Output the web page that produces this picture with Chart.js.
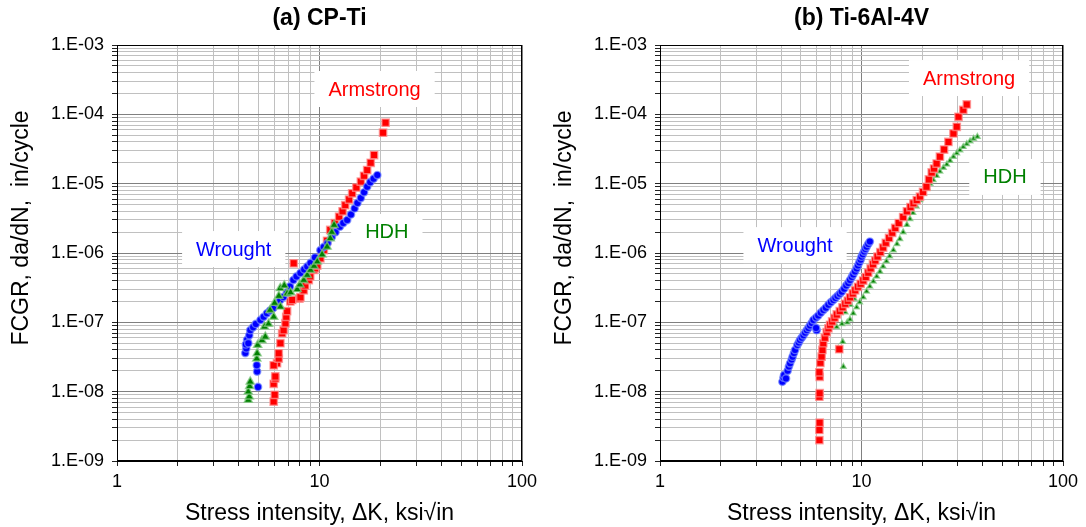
<!DOCTYPE html>
<html>
<head>
<meta charset="utf-8">
<script src="https://cdn.jsdelivr.net/npm/chart.js@4.4.1/dist/chart.umd.min.js"></script>
<style>
  html, body { margin: 0; padding: 0; background: #fff; }
  #wrap { position: relative; width: 1086px; height: 527px; overflow: hidden; }
  .panel { position: absolute; top: 0; width: 543px; height: 527px; }
</style>
</head>
<body>
<div id="wrap">
  <div class="panel" style="left:0"><canvas id="cpti"></canvas></div>
  <div class="panel" style="left:543px"><canvas id="ti64"></canvas></div>
</div>
<script>
// ---- axis decades and their labels ----
const xDecades = [1, 10, 100];
const xTickLabels = ['1', '10', '100'];
const yDecades = [1e-9, 1e-8, 1e-7, 1e-6, 1e-5, 1e-4, 1e-3];
const yTickLabels = ['1.E-09', '1.E-08', '1.E-07', '1.E-06', '1.E-05', '1.E-04', '1.E-03'];

// ---- (a) CP-Ti : stress intensity range (ksi·√in) and crack growth rate (in/cycle) ----
const cpWroughtK = [4.97, 4.92, 4.90, 4.30, 4.35, 4.39, 4.33, 4.45, 4.50, 4.55, 4.70, 4.85, 5.11, 5.30, 5.50, 5.70, 5.92, 6.20, 6.40, 6.63, 6.90, 7.15, 7.43, 7.70, 8.05, 8.40, 8.70, 9.03, 9.50, 10.1, 10.5, 10.96, 11.5, 12.0, 12.6, 13.1, 13.7, 14.3, 14.9, 15.4, 16.0, 16.6, 17.2, 17.8, 18.5, 19.3];
const cpWroughtRate = [1.17e-8, 1.95e-8, 2.4e-8, 3.6e-8, 4.2e-8, 5.6e-8, 4.8e-8, 5.0e-8, 6.5e-8, 7.7e-8, 8.5e-8, 9.5e-8, 1.08e-7, 1.2e-7, 1.35e-7, 1.48e-7, 1.61e-7, 1.9e-7, 2.1e-7, 2.32e-7, 2.7e-7, 3.3e-7, 4.07e-7, 4.6e-7, 5.14e-7, 5.8e-7, 6.4e-7, 7.17e-7, 8.6e-7, 1.1e-6, 1.22e-6, 1.39e-6, 1.7e-6, 2.0e-6, 2.4e-6, 2.7e-6, 2.99e-6, 3.6e-6, 4.4e-6, 5.26e-6, 6.2e-6, 7.5e-6, 9.04e-6, 1.05e-5, 1.18e-5, 1.33e-5];

const cpArmstrongK = [5.94, 6.01, 5.94, 6.05, 6.05, 6.17, 5.94, 6.29, 6.29, 6.41, 6.54, 6.65, 6.79, 6.85, 6.92, 7.18, 7.33, 7.96, 8.05, 7.46, 8.36, 8.50, 8.85, 9.00, 9.37, 9.50, 9.75, 10.1, 10.5, 10.9, 11.3, 11.9, 12.5, 13.0, 13.4, 14.0, 14.5, 15.2, 16.0, 16.6, 17.2, 17.9, 18.6, 20.6, 21.2];
const cpArmstrongRate = [7.2e-9, 9.0e-9, 1.3e-8, 1.55e-8, 1.66e-8, 2.57e-8, 2.4e-8, 3.0e-8, 3.57e-8, 5.0e-8, 6.95e-8, 7.7e-8, 9.7e-8, 1.2e-7, 1.45e-7, 2.0e-7, 2.1e-7, 2.2e-7, 2.3e-7, 7.1e-7, 2.9e-7, 3.4e-7, 4.07e-7, 4.6e-7, 5.7e-7, 6.0e-7, 6.6e-7, 8.4e-7, 1.1e-6, 1.5e-6, 2.15e-6, 2.7e-6, 3.34e-6, 4.0e-6, 4.9e-6, 5.9e-6, 7.26e-6, 8.8e-6, 1.07e-5, 1.3e-5, 1.57e-5, 2.0e-5, 2.59e-5, 5.43e-5, 7.57e-5];

const cpHdhK = [4.45, 4.50, 4.45, 4.52, 4.55, 4.90, 4.92, 4.95, 5.20, 5.40, 5.35, 5.60, 5.94, 5.70, 6.00, 6.41, 6.30, 6.40, 6.70, 6.92, 7.20, 7.76, 8.00, 8.36, 8.70, 9.03, 9.40, 9.75, 10.3, 10.9, 11.3, 11.5, 11.8];
const cpHdhRate = [7.6e-9, 8.5e-9, 1.0e-8, 1.2e-8, 1.39e-8, 3.0e-8, 3.57e-8, 4.71e-8, 5.5e-8, 6.2e-8, 8.65e-8, 9.5e-8, 1.2e-7, 1.5e-7, 1.9e-7, 1.68e-7, 2.4e-7, 3.1e-7, 3.4e-7, 2.6e-7, 2.7e-7, 3.0e-7, 3.5e-7, 4.07e-7, 4.8e-7, 5.69e-7, 6.5e-7, 7.5e-7, 9.5e-7, 1.23e-6, 1.63e-6, 2.0e-6, 2.53e-6];

// ---- (b) Ti-6Al-4V ----
const tiWroughtK = [4.05, 4.10, 4.13, 4.22, 4.30, 4.36, 4.42, 4.50, 4.55, 4.62, 4.68, 4.80, 4.88, 4.95, 5.05, 5.15, 5.25, 5.35, 5.45, 5.55, 5.66, 5.77, 5.99, 5.95, 5.95, 6.10, 6.28, 6.47, 6.65, 6.85, 7.05, 7.25, 7.42, 7.60, 7.80, 7.98, 8.20, 8.40, 8.60, 8.77, 8.95, 9.10, 9.28, 9.46, 9.60, 9.75, 9.90, 10.0, 10.15, 10.3, 10.45, 10.6, 10.8, 11.0];
const tiWroughtRate = [1.39e-8, 1.6e-8, 1.74e-8, 1.55e-8, 2.0e-8, 2.3e-8, 2.56e-8, 2.9e-8, 3.2e-8, 3.6e-8, 4.0e-8, 4.7e-8, 5.1e-8, 5.56e-8, 6.0e-8, 6.5e-8, 7.1e-8, 7.7e-8, 8.3e-8, 9.0e-8, 9.8e-8, 1.08e-7, 7.7e-8, 8.3e-8, 1.17e-7, 1.25e-7, 1.38e-7, 1.5e-7, 1.62e-7, 1.8e-7, 1.95e-7, 2.1e-7, 2.25e-7, 2.4e-7, 2.58e-7, 2.77e-7, 3.05e-7, 3.4e-7, 3.7e-7, 4.07e-7, 4.5e-7, 4.9e-7, 5.4e-7, 6.0e-7, 6.6e-7, 7.3e-7, 8.0e-7, 8.85e-7, 9.6e-7, 1.05e-6, 1.14e-6, 1.23e-6, 1.35e-6, 1.46e-6];

const tiArmstrongK = [6.18, 6.18, 6.20, 6.18, 6.20, 6.20, 6.18, 6.25, 6.34, 6.40, 7.76, 6.46, 6.58, 6.72, 6.85, 6.98, 7.15, 7.35, 7.54, 7.80, 8.05, 8.30, 8.55, 8.77, 9.05, 9.30, 9.60, 9.90, 10.2, 10.5, 10.8, 11.1, 11.4, 11.7, 12.0, 12.4, 12.8, 13.2, 13.7, 14.2, 14.7, 15.3, 16.1, 16.8, 17.5, 18.1, 18.8, 19.5, 20.2, 21.0, 21.6, 22.3, 22.9, 23.6, 24.5, 25.7, 27.0, 28.6, 29.7, 30.3, 32.0, 33.3];
const tiArmstrongRate = [2.0e-9, 2.8e-9, 3.57e-9, 8.45e-9, 9.5e-9, 1.64e-8, 1.9e-8, 2.6e-8, 3.2e-8, 4.0e-8, 4.1e-8, 5.0e-8, 6.0e-8, 7.2e-8, 8.2e-8, 9.2e-8, 1.03e-7, 1.16e-7, 1.3e-7, 1.45e-7, 1.65e-7, 1.85e-7, 2.05e-7, 2.3e-7, 2.6e-7, 2.9e-7, 3.25e-7, 3.6e-7, 4.0e-7, 4.5e-7, 5.2e-7, 6.0e-7, 6.9e-7, 7.8e-7, 8.9e-7, 1.03e-6, 1.2e-6, 1.4e-6, 1.65e-6, 1.95e-6, 2.3e-6, 2.7e-6, 3.3e-6, 4.0e-6, 4.6e-6, 5.2e-6, 5.8e-6, 6.5e-6, 7.6e-6, 9.0e-6, 1.15e-5, 1.45e-5, 1.65e-5, 1.95e-5, 2.45e-5, 3.1e-5, 4.0e-5, 5.3e-5, 6.6e-5, 9.2e-5, 1.16e-4, 1.39e-4];

const tiHdhK = [8.13, 7.67, 8.07, 7.53, 8.00, 8.44, 9.35, 8.30, 8.80, 9.20, 8.50, 8.77, 9.10, 9.46, 9.80, 10.2, 10.6, 11.0, 11.45, 11.9, 12.35, 12.8, 13.3, 13.8, 14.4, 15.0, 15.5, 16.1, 16.8, 17.4, 18.0, 18.7, 19.5, 20.3, 21.2, 21.9, 22.7, 23.6, 24.5, 25.5, 26.5, 27.5, 28.6, 29.7, 30.8, 32.0, 33.3, 34.6, 36.0, 37.6];
const tiHdhRate = [2.29e-8, 4.2e-8, 5.25e-8, 8.6e-8, 9.5e-8, 3.45e-7, 5.4e-7, 1.4e-7, 1.8e-7, 2.2e-7, 1.0e-7, 1.1e-7, 1.35e-7, 1.65e-7, 1.95e-7, 2.3e-7, 2.8e-7, 3.3e-7, 3.9e-7, 4.6e-7, 5.4e-7, 6.4e-7, 7.6e-7, 9.0e-7, 1.1e-6, 1.35e-6, 1.6e-6, 2.0e-6, 2.55e-6, 3.1e-6, 3.8e-6, 4.7e-6, 5.8e-6, 7.3e-6, 8.6e-6, 1.0e-5, 1.13e-5, 1.3e-5, 1.5e-5, 1.7e-5, 1.9e-5, 2.15e-5, 2.45e-5, 2.75e-5, 3.05e-5, 3.4e-5, 3.75e-5, 4.1e-5, 4.45e-5, 4.76e-5];

// ---- helpers ----
const FONT = '"Liberation Sans", Arial, sans-serif';
const Y_TITLE = 'FCGR, da/dN,  in/cycle';

function pairs(ks, rates) {
  return ks.map((k, i) => ({ x: k, y: rates[i] }));
}

// every integer multiple (1..9) inside each decade, plus the closing decade
function logTicks(decades) {
  const out = [];
  for (let i = 0; i < decades.length - 1; i++) {
    for (let m = 1; m <= 9; m++) out.push(decades[i] * m);
  }
  out.push(decades[decades.length - 1]);
  return out;
}

function decadeIndex(decades, v) {
  return decades.findIndex(d => Math.abs(v - d) / d < 1e-6);
}

// panel heading centred over the plotting area, and the rotated rate caption
const panelText = {
  id: 'panelText',
  afterDraw(chart, args, opts) {
    const { ctx, chartArea: a } = chart;
    ctx.save();
    ctx.fillStyle = '#000';
    ctx.textAlign = 'center';
    ctx.textBaseline = 'middle';
    ctx.font = 'bold 23px ' + FONT;
    ctx.fillText(opts.title, (a.left + a.right) / 2, 19);
    ctx.font = '23px ' + FONT;
    ctx.translate(22, 228);
    ctx.rotate(-Math.PI / 2);
    ctx.fillText(opts.yTitle, 0, 0);
    ctx.restore();
  }
};

// white text boxes naming each material
const labelBoxes = {
  id: 'labelBoxes',
  beforeDatasetsDraw(chart, args, opts) {
    const { ctx, scales: { x, y } } = chart;
    ctx.save();
    ctx.font = '20px ' + FONT;
    ctx.textAlign = 'center';
    ctx.textBaseline = 'middle';
    for (const item of opts.items || []) {
      const px = x.getPixelForValue(item.k);
      const py = y.getPixelForValue(item.rate);
      const w = ctx.measureText(item.text).width + 28;
      const h = 36;
      ctx.fillStyle = '#ffffff';
      ctx.fillRect(px - w / 2, py - h / 2, w, h);
      ctx.fillStyle = item.color;
      ctx.fillText(item.text, px, py + 1);
    }
    ctx.restore();
  }
};

// black frame around the plotting area
const plotFrame = {
  id: 'plotFrame',
  afterDatasetsDraw(chart) {
    const { ctx, chartArea: a } = chart;
    ctx.save();
    ctx.strokeStyle = '#000';
    ctx.lineWidth = 1;
    const l = Math.round(a.left) + 0.5, t = Math.round(a.top) + 0.5;
    const r = Math.round(a.right) - 0.5, b = Math.round(a.bottom) - 0.5;
    ctx.strokeRect(l, t, r - l, b - t);
    ctx.restore();
  }
};

function series(label, data, style) {
  return Object.assign({ label, data, showLine: false, borderWidth: 1.4 }, style);
}

const WROUGHT = { pointStyle: 'circle', backgroundColor: '#0000ff', borderColor: 'rgba(120,140,255,0.7)' };
const ARMSTRONG = { pointStyle: 'rect', backgroundColor: '#ff0000', borderColor: 'rgba(255,140,140,0.75)' };
const HDH = { pointStyle: 'triangle', backgroundColor: '#008000', borderColor: 'rgba(130,200,130,0.75)' };

function makeChart(id, title, datasets, labels, padRight) {
  const xTicks = logTicks(xDecades);
  const yTicks = logTicks(yDecades);
  return new Chart(document.getElementById(id), {
    type: 'scatter',
    data: { datasets },
    plugins: [labelBoxes, plotFrame, panelText],
    options: {
      responsive: true,
      maintainAspectRatio: false,
      animation: false,
      events: [],
      layout: { padding: { left: 0, right: padRight, top: 45, bottom: 0 } },
      plugins: {
        legend: { display: false },
        tooltip: { enabled: false },
        title: { display: false },
        panelText: { title, yTitle: Y_TITLE },
        labelBoxes: { items: labels }
      },
      scales: {
        x: {
          type: 'logarithmic',
          min: 1,
          max: 100,
          afterBuildTicks: s => { s.ticks = xTicks.map(v => ({ value: v })); },
          afterFit: s => { s.height = 66; },
          ticks: {
            autoSkip: false,
            maxRotation: 0,
            minRotation: 0,
            padding: 5,
            color: '#000',
            font: { family: FONT, size: 18 },
            callback: v => { const i = decadeIndex(xDecades, v); return i >= 0 ? xTickLabels[i] : ''; }
          },
          grid: {
            color: c => decadeIndex(xDecades, c.tick.value) >= 0 ? '#808080' : '#c0c0c0',
            lineWidth: 1,
            tickLength: 5,
            tickColor: '#222'
          },
          border: { color: '#000', width: 1 },
          title: {
            display: true,
            text: 'Stress intensity, \u0394K, ksi\u221Ain',
            color: '#000',
            font: { family: FONT, size: 23, lineHeight: 1.2 },
            padding: { top: 0, bottom: 0 }
          }
        },
        y: {
          type: 'logarithmic',
          min: 1e-9,
          max: 1e-3,
          afterBuildTicks: s => { s.ticks = yTicks.map(v => ({ value: v })); },
          afterFit: s => { s.width = 117; },
          ticks: {
            autoSkip: false,
            padding: 8,
            color: '#000',
            font: { family: FONT, size: 18 },
            callback: v => { const i = decadeIndex(yDecades, v); return i >= 0 ? yTickLabels[i] : ''; }
          },
          grid: {
            color: c => decadeIndex(yDecades, c.tick.value) >= 0 ? '#808080' : '#c0c0c0',
            lineWidth: 1,
            tickLength: 5,
            tickColor: '#222'
          },
          border: { color: '#000', width: 1 },
          title: { display: false }
        }
      }
    }
  });
}

makeChart('cpti', '(a) CP-Ti', [
  series('HDH', pairs(cpHdhK, cpHdhRate), Object.assign({ pointRadius: 4.8 }, HDH)),
  series('Wrought', pairs(cpWroughtK, cpWroughtRate), Object.assign({ pointRadius: 3.7 }, WROUGHT)),
  series('Armstrong', pairs(cpArmstrongK, cpArmstrongRate), Object.assign({ pointRadius: 5.2 }, ARMSTRONG))
], [
  { text: 'Wrought', k: 3.77, rate: 1.14e-6, color: '#0000ff' },
  { text: 'Armstrong', k: 18.7, rate: 2.32e-4, color: '#ff0000' },
  { text: 'HDH', k: 21.5, rate: 2.01e-6, color: '#008000' }
], 21);

makeChart('ti64', '(b) Ti-6Al-4V', [
  series('Armstrong', pairs(tiArmstrongK, tiArmstrongRate), Object.assign({ pointRadius: 5.2 }, ARMSTRONG)),
  series('Wrought', pairs(tiWroughtK, tiWroughtRate), Object.assign({ pointRadius: 3.7 }, WROUGHT)),
  series('HDH', pairs(tiHdhK, tiHdhRate), Object.assign({ pointRadius: 3.2 }, HDH))
], [
  { text: 'Wrought', k: 4.68, rate: 1.30e-6, color: '#0000ff' },
  { text: 'Armstrong', k: 34.2, rate: 3.34e-4, color: '#ff0000' },
  { text: 'HDH', k: 51.5, rate: 1.25e-5, color: '#008000' }
], 23);
</script>
</body>
</html>
